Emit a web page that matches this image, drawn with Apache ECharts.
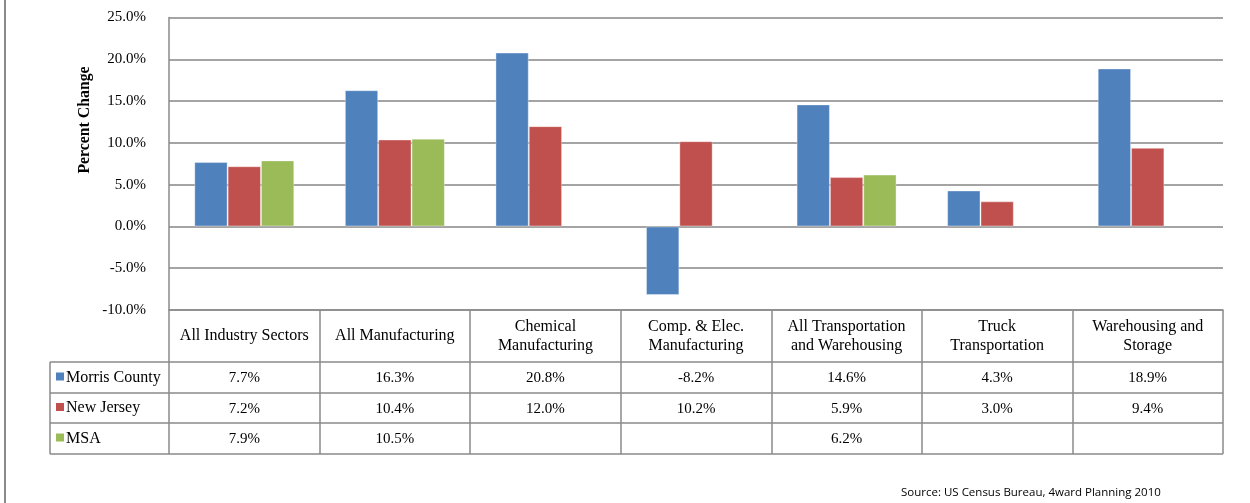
<!DOCTYPE html>
<html>
<head>
<meta charset="utf-8">
<script src="https://cdn.jsdelivr.net/npm/echarts@6/dist/echarts.min.js"></script>
<style>
html,body{margin:0;padding:0;background:#fff;}
#chart{width:1250px;height:503px;}
</style>
</head>
<body>
<div id="chart"></div>
<script>
const categories = ['All Industry Sectors', 'All Manufacturing', 'Chemical\nManufacturing', 'Comp. & Elec.\nManufacturing', 'All Transportation\nand Warehousing', 'Truck\nTransportation', 'Warehousing and\nStorage'];
const seriesNames = ['Morris County', 'New Jersey', 'MSA'];
const morris = [7.7, 16.3, 20.8, -8.2, 14.6, 4.3, 18.9];
const newJersey = [7.2, 10.4, 12.0, 10.2, 5.9, 3.0, 9.4];
const msa = [7.9, 10.5, null, null, 6.2, null, null];
const colors = ['#4F81BD', '#C0504D', '#9BBB59'];
const yTicks = { min: -10, max: 25, interval: 5 };
const sourceText = 'Source: US Census Bureau, 4ward Planning 2010';

const serif = '"Liberation Serif", "Times New Roman", serif';
const lineColor = '#8a8a8a';
const chart = echarts.init(document.getElementById('chart'), null, { renderer: 'canvas' });
const allSeries = [morris, newJersey, msa];

const GRID = { left: 169, right: 27, top: 17.5, bottom: 193 };
const rowOffsets = [52, 83, 113, 144]; // bottoms of header + 3 data rows, relative to plot bottom

chart.setOption({
  animation: false,
  backgroundColor: '#fff',
  grid: GRID,
  xAxis: {
    type: 'category',
    data: categories,
    axisLine: { onZero: false, lineStyle: { color: lineColor, width: 1.5 } },
    axisTick: { show: true, length: 144, lineStyle: { color: lineColor, width: 1.5 } },
    axisLabel: {
      interval: 0, margin: 26, verticalAlign: 'middle', lineHeight: 19,
      color: '#000', fontFamily: serif, fontSize: 16
    },
    splitLine: { show: false }
  },
  yAxis: {
    type: 'value',
    min: yTicks.min, max: yTicks.max, interval: yTicks.interval,
    axisLine: { show: true, lineStyle: { color: lineColor, width: 1.5 } },
    axisTick: { show: false },
    axisLabel: {
      margin: 23, color: '#000', fontFamily: serif, fontSize: 15,
      formatter: v => v.toFixed(1) + '%'
    },
    splitLine: { lineStyle: { color: '#868686', width: 1.5 } }
  },
  series: allSeries.map((d, i) => ({
    name: seriesNames[i],
    type: 'bar',
    data: d,
    barGap: '0%',
    barCategoryGap: '33.6%',
    itemStyle: { color: colors[i], borderColor: 'rgba(255,255,255,0.35)', borderWidth: 1 },
    z: 3
  }))
});

// Build data table beneath the chart from the same arrays
const plotBottom = 503 - GRID.bottom;
const plotRight = 1250 - GRID.right;
const tableLeft = 50;
const g = [];
// page left border
g.push({ type: 'line', shape: { x1: 5, y1: 0, x2: 5, y2: 503 }, style: { stroke: '#8a8a8a', lineWidth: 2 } });
// horizontal table lines
rowOffsets.forEach((off, k) => {
  g.push({ type: 'line', shape: { x1: tableLeft, y1: plotBottom + off, x2: plotRight, y2: plotBottom + off }, style: { stroke: lineColor, lineWidth: 1.5 }, z: 5 });
});
// left column verticals
g.push({ type: 'line', shape: { x1: tableLeft, y1: plotBottom + rowOffsets[0], x2: tableLeft, y2: plotBottom + rowOffsets[3] }, style: { stroke: lineColor, lineWidth: 1.5 }, z: 5 });
// rows
allSeries.forEach((d, i) => {
  const yc = plotBottom + (rowOffsets[i] + rowOffsets[i + 1]) / 2;
  g.push({ type: 'rect', shape: { x: 56, y: yc - 5, width: 8, height: 8 }, style: { fill: colors[i] }, z: 6 });
  g.push({ type: 'text', x: 66, y: yc, style: { text: seriesNames[i], font: '16px ' + serif, fill: '#000', textVerticalAlign: 'middle', textAlign: 'left' }, z: 6 });
  d.forEach((v, j) => {
    if (v === null) return;
    const x = chart.convertToPixel({ xAxisIndex: 0 }, j);
    g.push({ type: 'text', x: x, y: yc + 1, style: { text: v.toFixed(1) + '%', font: '15px ' + serif, fill: '#000', textAlign: 'center', textVerticalAlign: 'middle' }, z: 6 });
  });
});
// y axis title
g.push({ type: 'text', x: 85, y: 120, rotation: Math.PI / 2, style: { text: 'Percent Change', font: 'bold 15.8px ' + serif, fill: '#000', textAlign: 'center', textVerticalAlign: 'middle' }, z: 6 });
// source
g.push({ type: 'text', x: 901, y: 493, style: { text: sourceText, font: '11.5px "Open Sans", sans-serif', fill: '#000', textAlign: 'left', textVerticalAlign: 'middle' }, z: 6 });

chart.setOption({ graphic: g });
</script>
</body>
</html>
